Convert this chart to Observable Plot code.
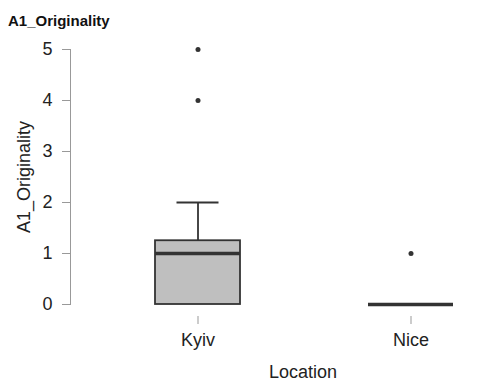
<!DOCTYPE html>
<html><head><meta charset="utf-8">
<script src="https://cdn.jsdelivr.net/npm/d3@7"></script>
<script src="https://cdn.jsdelivr.net/npm/@observablehq/plot@0.6"></script>
<style>
html,body{margin:0;background:#fff;overflow:hidden;font-family:"Liberation Sans",Arial,sans-serif;}
#title{height:32px;box-sizing:border-box;padding:13px 0 0 8px;font-size:15px;line-height:15px;font-weight:bold;color:#111;}
#chart{height:324px;}
#xlabel{margin-top:7px;margin-left:111px;width:384px;text-align:center;font-size:18px;line-height:18px;color:#222;}
</style>
</head><body>
<div id="title">A1_Originality</div>
<div id="chart"></div>
<div id="xlabel">Location</div>
<script>
// Box summaries
const locations = ["Kyiv", "Nice"];
const lowerQuartile = [0, 0];
const medians = [1, 0];
const upperQuartile = [1.25, 0];
const whiskerLow = [0, 0];
const whiskerHigh = [2, 0];
// Outliers
const outlierLocation = ["Kyiv", "Kyiv", "Nice"];
const outlierValue = [5, 4, 1];
// Tick labels
const yTicks = [0, 1, 2, 3, 4, 5];

const boxes = locations.map((loc, i) => ({
  loc, q1: lowerQuartile[i], med: medians[i], q3: upperQuartile[i],
  lo: whiskerLow[i], hi: whiskerHigh[i]
}));
const outliers = outlierLocation.map((loc, i) => ({loc, v: outlierValue[i]}));
const upperWhiskers = boxes.filter(d => d.hi > d.q3);

const dark = "#333";
const plot = Plot.plot({
  width: 495,
  height: 324,
  marginTop: 17,
  marginBottom: 52,
  marginLeft: 70,
  marginRight: 0,
  style: {fontFamily: "'Liberation Sans', Arial, sans-serif", fontSize: "18px", color: "#222", background: "#fff", overflow: "visible"},
  x: {type: "band", domain: locations, range: [90.5, 516.5], paddingInner: 0.601, paddingOuter: 0.3005, align: 0.5},
  y: {domain: [0, 5], range: [272, 17]},
  marks: [
    Plot.frame({anchor: "left", stroke: "#999"}),
    Plot.axisY({ticks: yTicks, tickFormat: d3.format("d"), tickSize: 8, tickPadding: 10, stroke: "#999", fill: "#222", fontSize: 18,
      label: "A1_Originality", labelAnchor: "center", labelOffset: 53, labelArrow: "none"}),
    Plot.axisX({tickSize: 8, dy: 12, tickPadding: 9, stroke: "#999", fill: "#222", fontSize: 18, label: null}),
    Plot.ruleX(upperWhiskers, {x: "loc", y1: "q3", y2: "hi", stroke: dark, strokeWidth: 1.8}),
    Plot.tickY(upperWhiskers, {x: "loc", y: "hi", stroke: dark, strokeWidth: 1.8, insetLeft: 21.5, insetRight: 21.5}),
    Plot.barY(boxes, {x: "loc", y1: "q1", y2: "q3", fill: "#bfbfbf", stroke: dark, strokeWidth: 1.8}),
    Plot.tickY(boxes, {x: "loc", y: "med", stroke: dark, strokeWidth: 3.5}),
    Plot.dot(outliers, {x: "loc", y: "v", r: 2.5, fill: dark, stroke: null})
  ]
});
document.getElementById("chart").appendChild(plot);
</script>
</body></html>
